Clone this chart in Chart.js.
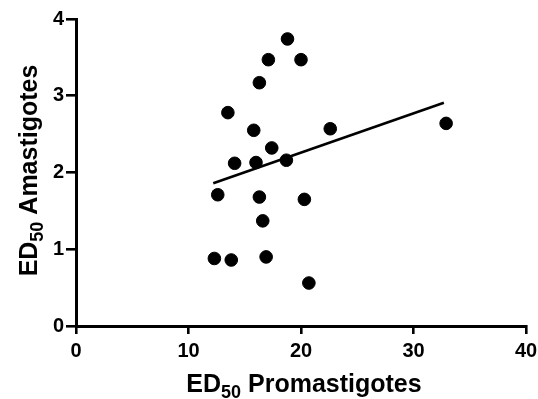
<!DOCTYPE html>
<html>
<head>
<meta charset="utf-8">
<script src="https://cdn.jsdelivr.net/npm/chart.js@4/dist/chart.umd.min.js"></script>
<style>
  html, body { margin: 0; padding: 0; background: #fff; }
  #wrap { width: 538px; height: 399px; }
</style>
</head>
<body>
<div id="wrap"><canvas id="scatterChart" width="538" height="399"></canvas></div>
<script>
// ED50 values
const promastigotes = [18.8, 17.1, 20.0, 16.3, 13.5, 15.8, 22.6, 32.9, 17.4, 14.1,
                       16.0, 18.7, 12.6, 16.3, 20.3, 16.6, 12.3, 13.8, 16.9, 20.7];
const amastigotes   = [3.74, 3.47, 3.47, 3.17, 2.78, 2.55, 2.57, 2.64, 2.32, 2.12,
                       2.13, 2.16, 1.71, 1.68, 1.65, 1.37, 0.88, 0.86, 0.90, 0.56];

// linear fit end points
const fitX = [12.2, 32.7];
const fitY = [1.86, 2.91];

const xTicks = [0, 10, 20, 30, 40];
const yTicks = [0, 1, 2, 3, 4];

const xTitle = { main: 'ED', sub: '50', rest: ' Promastigotes' };
const yTitle = { main: 'ED', sub: '50', rest: ' Amastigotes' };

const fontFamily = '"Liberation Sans", Arial, Helvetica, sans-serif';

// draws "ED50 ..." with a real subscript, centred on (0,0) baseline
function drawSubTitle(ctx, t) {
  const big = 'bold 25px ' + fontFamily;
  const small = 'bold 18px ' + fontFamily;
  ctx.font = big;
  const w1 = ctx.measureText(t.main).width;
  const w3 = ctx.measureText(t.rest).width;
  ctx.font = small;
  const w2 = ctx.measureText(t.sub).width;
  let x = -(w1 + w2 + w3) / 2;
  ctx.textAlign = 'left';
  ctx.textBaseline = 'alphabetic';
  ctx.fillStyle = '#000';
  ctx.font = big;
  ctx.fillText(t.main, x, 0);
  x += w1;
  ctx.font = small;
  ctx.fillText(t.sub, x, 6);
  x += w2;
  ctx.font = big;
  ctx.fillText(t.rest, x, 0);
}

const axisTitles = {
  id: 'axisTitles',
  afterDraw(chart) {
    const { ctx, chartArea } = chart;
    ctx.save();
    ctx.translate((chartArea.left + chartArea.right) / 2 + 3, 392);
    drawSubTitle(ctx, xTitle);
    ctx.restore();

    ctx.save();
    ctx.translate(37, (chartArea.top + chartArea.bottom) / 2 - 2);
    ctx.rotate(-Math.PI / 2);
    drawSubTitle(ctx, yTitle);
    ctx.restore();
  }
};

new Chart(document.getElementById('scatterChart'), {
  type: 'scatter',
  data: {
    datasets: [
      {
        data: promastigotes.map((x, i) => ({ x: x, y: amastigotes[i] })),
        backgroundColor: '#000',
        borderColor: '#000',
        pointRadius: 6.3,
        pointHoverRadius: 6.3,
      },
      {
        type: 'line',
        data: fitX.map((x, i) => ({ x: x, y: fitY[i] })),
        borderColor: '#000',
        borderWidth: 2.6,
        pointRadius: 0,
        fill: false,
      },
    ],
  },
  options: {
    responsive: false,
    animation: false,
    layout: { padding: { top: 19, right: 12, left: 0, bottom: 0 } },
    plugins: {
      legend: { display: false },
      tooltip: { enabled: false },
    },
    scales: {
      x: {
        type: 'linear',
        min: 0,
        max: 40,
        afterBuildTicks: axis => { axis.ticks = xTicks.map(v => ({ value: v })); },
        afterFit: axis => {
          axis.height = 73;
          axis.paddingLeft = 0;
          axis.paddingRight = 0;
        },
        grid: { drawOnChartArea: false, drawTicks: true, tickLength: 8, color: '#000', lineWidth: 2.6 },
        border: { display: true, color: '#000', width: 3 },
        ticks: {
          color: '#000',
          padding: 5,
          font: { family: fontFamily, size: 20, weight: 'bold' },
          maxRotation: 0,
        },
        title: { display: false },
      },
      y: {
        type: 'linear',
        min: 0,
        max: 4,
        afterBuildTicks: axis => { axis.ticks = yTicks.map(v => ({ value: v })); },
        afterFit: axis => {
          axis.width = 76;
          axis.paddingTop = 0;
          axis.paddingBottom = 0;
        },
        grid: { drawOnChartArea: false, drawTicks: true, tickLength: 10, color: '#000', lineWidth: 2.6 },
        border: { display: true, color: '#000', width: 3 },
        ticks: {
          color: '#000',
          padding: 2,
          font: { family: fontFamily, size: 20, weight: 'bold' },
        },
        title: { display: false },
      },
    },
  },
  plugins: [axisTitles],
});
</script>
</body>
</html>
